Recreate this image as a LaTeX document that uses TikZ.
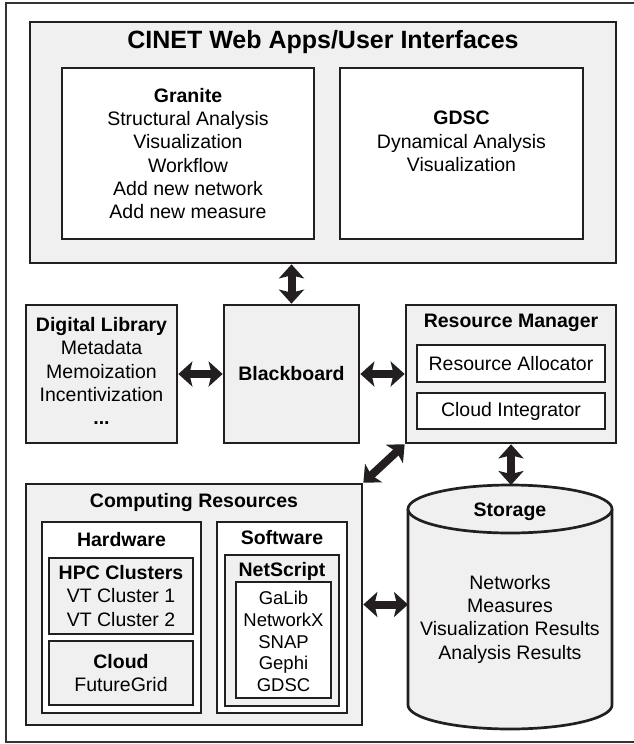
\documentclass[tikz,border=0pt]{standalone}
\usepackage{fontspec}
\setmainfont{Liberation Sans}
\usetikzlibrary{arrows.meta}
\definecolor{panelgray}{RGB}{240,240,240}
\definecolor{inkline}{RGB}{35,31,32}

\begin{document}
\begin{tikzpicture}[x=1pt,y=-1pt,
    box/.style={draw=inkline,line width=2.7pt,inner sep=0pt,fill=#1},
    box/.default=panelgray,
    txt/.style={align=center,inner sep=0pt,font=\fontsize{19.5}{23.3}\selectfont},
    hd/.style={txt,font=\fontsize{19.5}{23.3}\selectfont\bfseries},
    dbl/.style={line width=8pt,draw=inkline,{Stealth[length=14pt,width=25pt,inset=3pt]}-{Stealth[length=14pt,width=25pt,inset=3pt]}}]
    \useasboundingbox (0,0) rectangle (634,744);
    \node[draw=black!80,line width=2pt,inner sep=0pt,minimum width=640pt,minimum height=739pt] (frame) at (326,372.5) {};
    %web apps on top
    \node[box,minimum width=586pt,minimum height=241pt] (cinet) at (323,142.5) {};
    \node[txt,font=\fontsize{25}{30}\selectfont\bfseries] (title) at (323,42) {CINET Web Apps/User Interfaces};
    \node[box=white,minimum width=252pt,minimum height=171pt] (granite) at (188,153.5) {};
    \node[box=white,minimum width=243pt,minimum height=171pt] (gdsc) at (461.5,153.5) {};
    \node[txt] (granitetxt) at (granite) {\textbf{Granite}\\Structural Analysis\\Visualization\\Workflow\\Add new network\\Add new measure};
    \node[txt] (gdsctxt) at (461.5,141.5) {\textbf{GDSC}\\Dynamical Analysis\\Visualization};
    %middle row
    \node[box,minimum width=151pt,minimum height=138pt] (dl) at (101.5,374) {};
    \node[txt] (dltxt) at (101.5,371) {\textbf{Digital Library}\\Metadata\\Memoization\\Incentivization\\\textbf{...}};
    \node[box,minimum width=135pt,minimum height=138pt] (bb) at (291.5,374) {};
    \node[hd] (bbtxt) at (bb) {Blackboard};
    \node[box,minimum width=210pt,minimum height=138pt] (rm) at (511,374) {};
    \node[hd] (rmtxt) at (511,323) {Resource Manager};
    \node[box=white,minimum width=188pt,minimum height=37pt] (ra) at (511,363.5) {};
    \node[txt] (ratxt) at (ra) {Resource Allocator};
    \node[box=white,minimum width=188pt,minimum height=36pt] (ci) at (511,411) {};
    \node[txt] (citxt) at (ci) {Cloud Integrator};
    %computing resources
    \node[box,minimum width=336pt,minimum height=241pt] (cr) at (194,604.5) {};
    \node[hd] (crtxt) at (194,502) {Computing Resources};
    \node[box=white,minimum width=159pt,minimum height=191pt] (hw) at (121.5,617.5) {};
    \node[hd] (hwtxt) at (121.5,540) {Hardware};
    \node[box,minimum width=144pt,minimum height=76pt] (hpc) at (121,596) {};
    \node[txt] (hpctxt) at (hpc) {\textbf{HPC Clusters}\\VT Cluster 1\\VT Cluster 2};
    \node[box,minimum width=144pt,minimum height=64pt] (cloud) at (121,673) {};
    \node[txt] (cloudtxt) at (cloud) {\textbf{Cloud}\\FutureGrid};
    \node[box=white,minimum width=130pt,minimum height=191pt] (sw) at (282,617.5) {};
    \node[hd] (swtxt) at (282,538) {Software};
    \node[box,minimum width=114pt,minimum height=151pt] (ns) at (282,630.5) {};
    \node[hd] (nstxt) at (282,571) {NetScript};
    \node[box=white,minimum width=95pt,minimum height=116pt] (libs) at (283.5,640) {};
    \node[txt,font=\fontsize{18.5}{21.7}\selectfont] (libstxt) at (283.5,641.5) {GaLib\\NetworkX\\SNAP\\Gephi\\GDSC};
    %storage drum
    \draw[draw=inkline,line width=2.7pt,fill=panelgray] (408,509) -- (408,705) arc[start angle=180,end angle=0,x radius=102,y radius=24] -- (612,509);
    \draw[draw=inkline,line width=2.7pt,fill=panelgray] (510,509) ellipse[x radius=102,y radius=24];
    \coordinate (sttop) at (511,485);
    \coordinate (stside) at (408,604.5);
    \node[hd] (storage) at (510,512) {Storage};
    \node[txt] (stitems) at (510,619) {Networks\\Measures\\Visualization Results\\Analysis Results};
    %arrows
    \draw[dbl] (cinet.south -| bb.north) -- (bb.north);
    \draw[dbl] (dl) -- (bb);
    \draw[dbl] (bb) -- (rm);
    \draw[dbl] (rm.south west) -- (cr.north east);
    \draw[dbl] (rm.south) -- (sttop);
    \draw[dbl] (cr.east) -- (stside);
\end{tikzpicture}
\end{document}
